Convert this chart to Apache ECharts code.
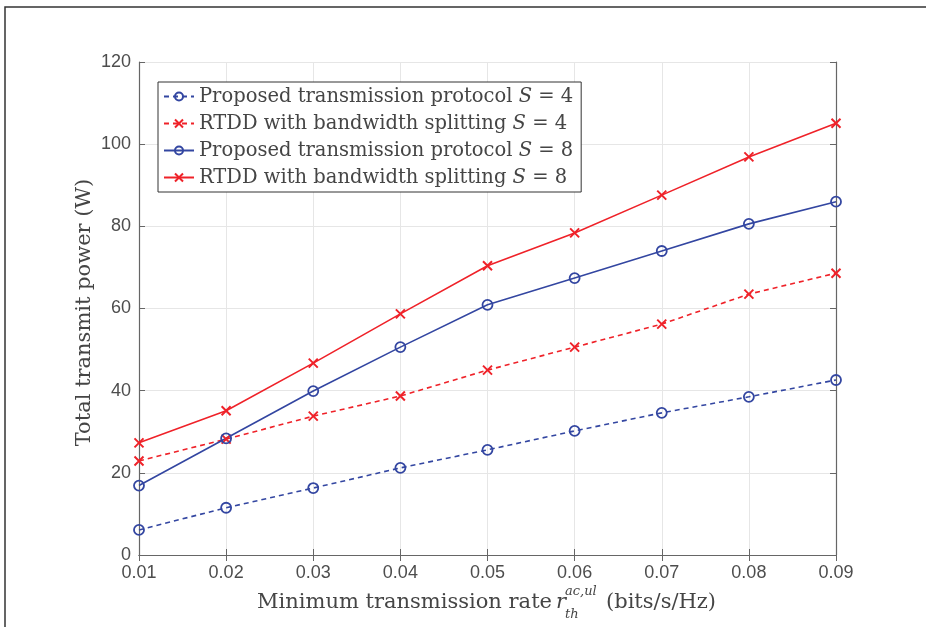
<!DOCTYPE html>
<html><head><meta charset="utf-8">
<script src="https://cdn.jsdelivr.net/npm/echarts@6/dist/echarts.min.js"></script>
<style>html,body{margin:0;padding:0;background:#fff}#c{width:926px;height:627px}</style>
</head><body><div id="c"></div>
<script>
const categories = ['0.01','0.02','0.03','0.04','0.05','0.06','0.07','0.08','0.09'];
const yTicks = [0, 20, 40, 60, 80, 100, 120];
const seriesNames = [
  'Proposed transmission protocol S = 4',
  'RTDD with bandwidth splitting S = 4',
  'Proposed transmission protocol S = 8',
  'RTDD with bandwidth splitting S = 8'
];
const proposedS4 = [6.1, 11.5, 16.3, 21.2, 25.6, 30.2, 34.6, 38.5, 42.6];
const rtddS4 = [22.9, 28.2, 33.8, 38.7, 45.0, 50.6, 56.2, 63.5, 68.6];
const proposedS8 = [16.9, 28.4, 39.9, 50.6, 60.9, 67.4, 74.0, 80.6, 86.0];
const rtddS8 = [27.3, 35.1, 46.7, 58.7, 70.4, 78.4, 87.6, 96.9, 105.1];

const BLUE = '#3346a1', RED = '#ef2229';
const SERIF = '"DejaVu Serif", "Liberation Serif", serif';
const SANS = '"Liberation Sans", Arial, sans-serif';
const CROSS = 'path://M0,0L10,10M10,0L0,10';
const TXT = '#454545';
const LFS = 19.5, TFS = 21;

function mk(name, data, color, dashed, cross) {
  return {
    name, type: 'line', data, xAxisIndex: 0, yAxisIndex: 0,
    symbol: cross ? CROSS : 'circle',
    symbolSize: cross ? 9 : 10,
    showAllSymbol: true,
    lineStyle: { color, width: 1.6, type: dashed ? [5, 4] : 'solid' },
    itemStyle: { color: cross ? color : 'rgba(255,255,255,0)', borderColor: color, borderWidth: cross ? 2 : 1.8 },
    emphasis: { disabled: true },
    z: 3
  };
}

const chart = echarts.init(document.getElementById('c'), null, { renderer: 'canvas' });
chart.setOption({
  backgroundColor: '#fff',
  animation: false,
  grid: { left: 139, top: 62, width: 697, height: 493, containLabel: false },
  legend: {
    orient: 'vertical', left: 158, top: 82,
    backgroundColor: '#fff', borderColor: '#333', borderWidth: 1,
    padding: [4, 8, 4, 5], itemGap: 6, itemWidth: 30, itemHeight: 10,
    textStyle: { fontFamily: SERIF, fontSize: LFS, color: TXT, lineHeight: 21,
      rich: { i: { fontFamily: SERIF, fontStyle: 'italic', fontSize: LFS, color: TXT } } },
    formatter: n => n.replace(/ S = /, ' {i|S} = '),
    data: seriesNames
  },
  xAxis: [{
    type: 'category', data: categories, boundaryGap: false,
    axisLine: { show: true, lineStyle: { color: '#666', width: 1.2 } },
    axisTick: { show: true, inside: true, length: 6, alignWithLabel: true, lineStyle: { color: '#666' } },
    axisLabel: { color: '#4d4d4d', fontFamily: SANS, fontSize: 18, margin: 9 },
    splitLine: { show: true, lineStyle: { color: '#e6e6e6', width: 1 } }
  }, {
    type: 'category', data: categories, boundaryGap: false, position: 'top',
    axisLine: { show: true, lineStyle: { color: '#666', width: 1.2 } },
    axisTick: { show: true, inside: true, length: 6, lineStyle: { color: '#666' } },
    axisLabel: { show: false }, splitLine: { show: false }
  }],
  yAxis: [{
    type: 'value', min: 0, max: 120, interval: 20,
    name: 'Total transmit power (W)', nameLocation: 'middle', nameGap: 44, nameMoveOverlap: false,
    nameTextStyle: { fontFamily: SERIF, fontSize: TFS, color: TXT, padding: [0, 0, 0, -8] },
    axisLine: { show: true, lineStyle: { color: '#666', width: 1.2 } },
    axisTick: { show: true, inside: true, length: 6, lineStyle: { color: '#666' } },
    axisLabel: { color: '#4d4d4d', fontFamily: SANS, fontSize: 18, margin: 8,
      formatter: v => yTicks.includes(v) ? String(v) : '' },
    splitLine: { show: true, lineStyle: { color: '#e6e6e6', width: 1 } }
  }, {
    type: 'value', min: 0, max: 120, interval: 20, position: 'right',
    axisLine: { show: true, lineStyle: { color: '#666', width: 1.2 } },
    axisTick: { show: true, inside: true, length: 6, lineStyle: { color: '#666' } },
    axisLabel: { show: false }, splitLine: { show: false }
  }],
  series: [
    mk(seriesNames[0], proposedS4, BLUE, true, false),
    mk(seriesNames[1], rtddS4, RED, true, true),
    mk(seriesNames[2], proposedS8, BLUE, false, false),
    mk(seriesNames[3], rtddS8, RED, false, true)
  ],
  graphic: [
    { type: 'rect', shape: { x: 5, y: 7, width: 1000, height: 1000 }, style: { fill: 'none', stroke: '#333', lineWidth: 1.5 }, silent: true, z: 0 },
    { type: 'text', x: 552, y: 603, style: { text: 'Minimum transmission rate', fontFamily: SERIF, fontSize: TFS, fill: TXT, align: 'right', verticalAlign: 'middle' } },
    { type: 'text', x: 556, y: 603, style: { text: 'r', fontFamily: SERIF, fontStyle: 'italic', fontSize: TFS, fill: TXT, align: 'left', verticalAlign: 'middle' } },
    { type: 'text', x: 565, y: 592, style: { text: 'ac,ul', fontFamily: SERIF, fontStyle: 'italic', fontSize: 13, fill: TXT, align: 'left', verticalAlign: 'middle' } },
    { type: 'text', x: 565, y: 615, style: { text: 'th', fontFamily: SERIF, fontStyle: 'italic', fontSize: 13, fill: TXT, align: 'left', verticalAlign: 'middle' } },
    { type: 'text', x: 606, y: 603, style: { text: '(bits/s/Hz)', fontFamily: SERIF, fontSize: TFS, fill: TXT, align: 'left', verticalAlign: 'middle' } }
  ]
});
</script></body></html>
